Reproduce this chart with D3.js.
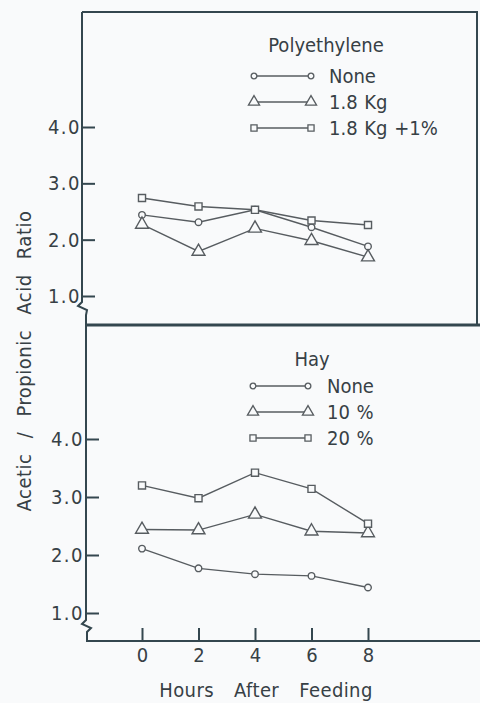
<!DOCTYPE html>
<html>
<head>
<meta charset="utf-8">
<script src="https://cdn.jsdelivr.net/npm/d3@7"></script>
<style>
  body { margin: 0; background: #f9fafb; }
  svg { display: block; font-family: "DejaVu Sans Condensed", "Liberation Sans Narrow", sans-serif; }
  text { fill: #374045; }
</style>
</head>
<body>
<svg width="480" height="703"></svg>
<script>
let hours = [0, 2, 4, 6, 8];
let yTicks = [1, 2, 3, 4];

// top panel: polyethylene
let polyNames = ["None", "1.8  Kg", "1.8  Kg +1%"];
let polyNone = [2.44, 2.31, 2.53, 2.22, 1.88];
let polyKg = [2.27, 1.79, 2.20, 1.98, 1.69];
let polyKg1 = [2.74, 2.59, 2.53, 2.34, 2.26];

// bottom panel: hay
let hayNames = ["None", "10 %", "20 %"];
let hayNone = [2.11, 1.77, 1.67, 1.64, 1.44];
let hay10 = [2.44, 2.43, 2.70, 2.41, 2.38];
let hay20 = [3.20, 2.98, 3.42, 3.14, 2.54];

let lineColor = "#575c60";
let axisColor = "#34474f";

let svg = d3.select("svg");

let xScale = d3.scaleLinear().domain([0, 8]).range([142, 368]);
let yTop = d3.scaleLinear().domain([1, 4]).range([296, 127]);
let yBot = d3.scaleLinear().domain([1, 4]).range([613, 439]);

let shapes = [d3.symbolCircle, d3.symbolTriangle, d3.symbolSquare];
let sizes = [34, 72, 50];

let drawFrame = () => {
  // left axis with breaks, running through both panels
  svg.append("path")
    .attr("d", "M82,12 V302 L78,306 L87,310 L86,315 V620 L82,624 L91,628 L87,632 V641 H480")
    .attr("fill", "none")
    .attr("stroke", axisColor)
    .attr("stroke-width", 2);

  svg.append("path")
    .attr("d", "M82,12 H477 V324")
    .attr("fill", "none")
    .attr("stroke", axisColor)
    .attr("stroke-width", 2);

  svg.append("line")
    .attr("x1", 86).attr("x2", 480)
    .attr("y1", 325).attr("y2", 325)
    .attr("stroke", axisColor)
    .attr("stroke-width", 3);
};

let generateAxes = () => {
  let fmt = d3.format(".1f");
  let topAxis = d3.axisLeft(yTop).tickValues(yTicks).tickFormat(fmt).tickSize(-13).tickPadding(1);
  let botAxis = d3.axisLeft(yBot).tickValues(yTicks).tickFormat(fmt).tickSize(-12).tickPadding(3);
  let xAxis = d3.axisBottom(xScale).tickValues(hours).tickSize(-13).tickPadding(7);

  let gTop = svg.append("g").attr("transform", "translate(82,0)").call(topAxis);
  let gBot = svg.append("g").attr("transform", "translate(87,0)").call(botAxis);
  let gX = svg.append("g").attr("transform", "translate(0,641)").call(xAxis);

  [gTop, gBot, gX].forEach((g) => {
    g.select(".domain").remove();
    g.selectAll(".tick line").attr("stroke", axisColor).attr("stroke-width", 2);
    g.selectAll(".tick text")
      .style("font-family", "'DejaVu Sans Condensed', sans-serif")
      .style("font-size", "20px")
      .attr("fill", "#374045");
  });
  [gTop, gBot].forEach((g) => {
    g.selectAll(".tick text").style("letter-spacing", "1.5px");
  });

  svg.append("text")
    .attr("x", 266)
    .attr("y", 697)
    .attr("text-anchor", "middle")
    .style("font-size", "20px")
    .style("letter-spacing", "0.4px")
    .style("word-spacing", "14px")
    .text("Hours After Feeding");

  svg.append("text")
    .attr("transform", "translate(31,361) rotate(-90)")
    .attr("text-anchor", "middle")
    .style("font-size", "20px")
    .style("letter-spacing", "0.5px")
    .style("word-spacing", "9px")
    .text("Acetic / Propionic  Acid  Ratio");
};

let drawSeries = (seriesList, yScale) => {
  let line = d3.line().x((d, i) => xScale(hours[i])).y((d) => yScale(d));
  seriesList.forEach((values, s) => {
    svg.append("path")
      .datum(values)
      .attr("d", line)
      .attr("fill", "none")
      .attr("stroke", lineColor)
      .attr("stroke-width", 1.4);

    svg.selectAll(null)
      .data(values)
      .enter()
      .append("path")
      .attr("d", d3.symbol().type(shapes[s]).size(sizes[s]))
      .attr("transform", (d, i) => "translate(" + xScale(hours[i]) + "," + yScale(d) + ")")
      .attr("fill", "#f9fafb")
      .attr("stroke", lineColor)
      .attr("stroke-width", 1.4);
  });
};

let drawLegend = (title, names, titleX, titleY, rowY, x1, x2, textX) => {
  let legend = svg.append("g");
  legend.append("text")
    .attr("x", titleX)
    .attr("y", titleY)
    .attr("text-anchor", "middle")
    .style("font-size", "20px")
    .text(title);

  names.forEach((name, i) => {
    let y = rowY[i];
    legend.append("line")
      .attr("x1", x1).attr("x2", x2)
      .attr("y1", y).attr("y2", y)
      .attr("stroke", lineColor)
      .attr("stroke-width", 1.4);
    [x1, x2].forEach((x) => {
      legend.append("path")
        .attr("d", d3.symbol().type(shapes[i]).size(sizes[i] * 0.75))
        .attr("transform", "translate(" + x + "," + y + ")")
        .attr("fill", "#f9fafb")
        .attr("stroke", lineColor)
        .attr("stroke-width", 1.3);
    });
    legend.append("text")
      .attr("x", textX)
      .attr("y", y)
      .attr("dy", "0.36em")
      .style("font-size", "20px")
      .style("word-spacing", "1px")
      .text(name);
  });
};

drawFrame();
generateAxes();
drawSeries([polyNone, polyKg, polyKg1], yTop);
drawSeries([hayNone, hay10, hay20], yBot);
drawLegend("Polyethylene", polyNames, 326, 52, [76, 102, 128], 254, 311, 329);
drawLegend("Hay", hayNames, 312, 366, [386, 412, 438], 253, 308, 327);
</script>
</body>
</html>
